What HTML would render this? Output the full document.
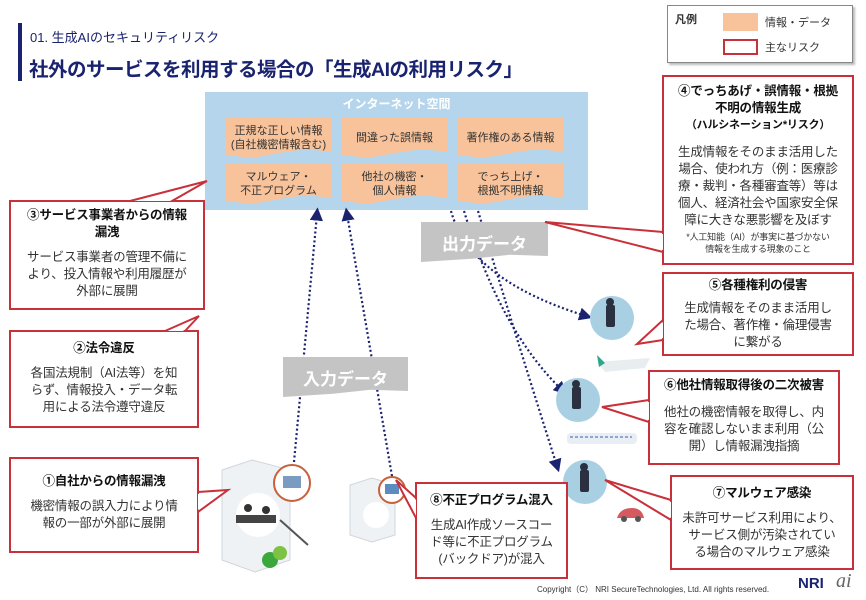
<!DOCTYPE html>
<html><head><meta charset="utf-8"><style>
*{margin:0;padding:0;box-sizing:border-box}
body{width:866px;height:600px;background:#fff;position:relative;overflow:hidden;font-family:"Liberation Sans","Noto Sans CJK JP",sans-serif;color:#333}
.a{position:absolute}
.box{position:absolute;border:2px solid #c8303a;background:#fff;text-align:center;font-size:12.5px;line-height:17px;color:#333;white-space:nowrap;letter-spacing:-0.2px}
.box b{display:block;font-size:12.5px;color:#111;margin-bottom:8px;line-height:17px}
.card{position:absolute;width:107px;height:41px;background:#f8c39b;color:#333;font-size:11px;line-height:14px;text-align:center;display:flex;align-items:center;justify-content:center;clip-path:polygon(0 0,100% 0,100% 85%,75% 78%,50% 88%,25% 100%,0 92%)}
.ban{position:absolute;background:#c4c4c4;color:#fff;font-weight:bold;font-size:17px;display:flex;align-items:center;justify-content:center;clip-path:polygon(0 0,100% 0,100% 85%,70% 82%,40% 92%,0 100%)}
</style></head><body>
<div class="a" style="left:18px;top:23px;width:4px;height:58px;background:#1a2370"></div>
<div class="a" style="left:30px;top:27px;font-size:13px;color:#1a2370">01. 生成AIのセキュリティリスク</div>
<div class="a" style="left:29px;top:53px;font-size:19.5px;font-weight:bold;color:#1a2370;letter-spacing:-0.5px">社外のサービスを利用する場合の「生成AIの利用リスク」</div>
<div class="a" style="left:667px;top:5px;width:186px;height:58px;border:1px solid #888;box-shadow:2px 2px 2px #bbb;background:#fff"></div>
<div class="a" style="left:675px;top:11px;font-size:11px;font-weight:bold">凡例</div>
<div class="a" style="left:723px;top:13px;width:35px;height:18px;background:#f8c39b"></div>
<div class="a" style="left:765px;top:14px;font-size:11px">情報・データ</div>
<div class="a" style="left:723px;top:39px;width:35px;height:16px;border:2px solid #c8303a"></div>
<div class="a" style="left:765px;top:39px;font-size:11px">主なリスク</div>

<div class="a" style="left:205px;top:92px;width:383px;height:118px;background:#b4d5eb"></div>
<div class="a" style="left:205px;top:95px;width:383px;text-align:center;color:#fff;font-weight:bold;font-size:12px">インターネット空間</div>
<div class="card" style="left:225px;top:117px">正規な正しい情報<br>(自社機密情報含む)</div>
<div class="card" style="left:341px;top:117px">間違った誤情報</div>
<div class="card" style="left:457px;top:117px">著作権のある情報</div>
<div class="card" style="left:225px;top:163px">マルウェア・<br>不正プログラム</div>
<div class="card" style="left:341px;top:163px">他社の機密・<br>個人情報</div>
<div class="card" style="left:457px;top:163px">でっち上げ・<br>根拠不明情報</div>

<svg class="a" style="left:0;top:0" width="866" height="600">
<defs><marker id="m" markerWidth="6" markerHeight="6" refX="3" refY="3" orient="auto"><path d="M0,0L6,3L0,6z" fill="#1a2370"/></marker></defs>
<g stroke="#1a2370" stroke-width="2.2" stroke-dasharray="2,2.5" fill="none">
<line x1="294" y1="462" x2="317" y2="214" marker-end="url(#m)"/>
<line x1="392" y1="476" x2="347" y2="214" marker-end="url(#m)"/>
<path d="M451,211 Q470,280 586,316" marker-end="url(#m)"/>
<path d="M464,211 Q500,330 562,390" marker-end="url(#m)"/>
<path d="M478,211 Q520,350 557,466" marker-end="url(#m)"/>
</g>
<circle cx="612" cy="318" r="22" fill="#a9cfe3"/>
<circle cx="578" cy="400" r="22" fill="#a9cfe3"/>
<circle cx="585" cy="482" r="22" fill="#a9cfe3"/>
<g fill="#2a3040"><rect x="606" y="305" width="9" height="22" rx="2"/><circle cx="610" cy="302" r="4"/>
<rect x="572" y="387" width="9" height="22" rx="2"/><circle cx="576" cy="384" r="4"/>
<rect x="580" y="470" width="9" height="22" rx="2"/><circle cx="584" cy="467" r="4"/></g>
<path d="M597,362 L650,358 L645,368 L605,372 Z" fill="#e8eef0"/><path d="M597,355 l8,8 l-6,4z" fill="#2fa58e"/>
<rect x="567" y="433" width="70" height="11" rx="4" fill="#e8eef4"/><line x1="570" y1="437" x2="632" y2="437" stroke="#3060b0" stroke-dasharray="3,2"/>
<path d="M617,518 q3,-10 15,-10 q10,0 12,10 z" fill="#d55a60"/><circle cx="624" cy="519" r="3" fill="#555"/><circle cx="638" cy="519" r="3" fill="#555"/>
<path d="M222,470 L252,460 L290,470 L290,560 L255,572 L222,560 Z" fill="#eef2f5" stroke="#d0d6dc"/>
<circle cx="258" cy="515" r="22" fill="#fff"/>
<rect x="236" y="515" width="40" height="8" fill="#444"/>
<circle cx="248" cy="508" r="4" fill="#333"/><circle cx="266" cy="510" r="4" fill="#333"/>
<circle cx="270" cy="560" r="8" fill="#3aa83a"/><circle cx="280" cy="553" r="7" fill="#7cc243"/>
<line x1="280" y1="520" x2="308" y2="545" stroke="#555" stroke-width="2"/>
<circle cx="292" cy="483" r="18" fill="#fff" stroke="#c8603a" stroke-width="2"/><rect x="283" y="476" width="18" height="12" fill="#7a9cc0"/>
<path d="M350,485 L372,478 L395,485 L395,535 L372,542 L350,535 Z" fill="#eef2f5" stroke="#d0d6dc"/>
<circle cx="376" cy="515" r="13" fill="#fff"/>
<circle cx="392" cy="490" r="13" fill="#fff" stroke="#c8603a" stroke-width="2"/><rect x="385" y="484" width="14" height="10" fill="#5a8cc0"/>
</svg>
<div class="ban" style="left:421px;top:222px;width:127px;height:40px">出力データ</div>
<div class="ban" style="left:283px;top:357px;width:125px;height:40px">入力データ</div>

<div class="box" style="left:662px;top:75px;width:192px;height:190px;padding-top:6px"><b style="margin-bottom:0">④でっちあげ・誤情報・根拠<br>不明の情報生成</b><div style="font-size:11px;font-weight:bold;color:#111;margin-bottom:10px">（ハルシネーション*リスク）</div>生成情報をそのまま活用した<br>場合、使われ方（例：医療診<br>療・裁判・各種審査等）等は<br>個人、経済社会や国家安全保<br>障に大きな悪影響を及ぼす<div style="font-size:9px;line-height:12px;margin-top:2px">*人工知能（AI）が事実に基づかない<br>情報を生成する現象のこと</div></div>
<div class="box" style="left:9px;top:200px;width:196px;height:110px;padding-top:5px"><b>③サービス事業者からの情報<br>漏洩</b>サービス事業者の管理不備に<br>より、投入情報や利用履歴が<br>外部に展開</div>
<div class="box" style="left:9px;top:330px;width:190px;height:98px;padding-top:8px"><b>②法令違反</b>各国法規制（AI法等）を知<br>らず、情報投入・データ転<br>用による法令遵守違反</div>
<div class="box" style="left:9px;top:457px;width:190px;height:96px;padding-top:14px"><b>①自社からの情報漏洩</b>機密情報の誤入力により情<br>報の一部が外部に展開</div>
<div class="box" style="left:415px;top:482px;width:153px;height:97px;padding-top:8px"><b>⑧不正プログラム混入</b>生成AI作成ソースコー<br>ド等に不正プログラム<br>(バックドア)が混入</div>
<div class="box" style="left:662px;top:272px;width:192px;height:84px;padding-top:3px"><b style="margin-bottom:6px">⑤各種権利の侵害</b>生成情報をそのまま活用し<br>た場合、著作権・倫理侵害<br>に繋がる</div>
<div class="box" style="left:648px;top:370px;width:192px;height:95px;padding-top:5px"><b style="margin-bottom:10px">⑥他社情報取得後の二次被害</b>他社の機密情報を取得し、内<br>容を確認しないまま利用（公<br>開）し情報漏洩指摘</div>
<div class="box" style="left:670px;top:475px;width:184px;height:95px;padding-top:8px"><b>⑦マルウェア感染</b>未許可サービス利用により、<br>サービス側が汚染されてい<br>る場合のマルウェア感染</div>

<svg class="a" style="left:0;top:0" width="866" height="600">
<g stroke="none" fill="#fff">
<polygon points="132,201 207,181 170,201"/>
<polygon points="167,331 199,316 183,331"/>
<polygon points="198,494 228,490 198,510"/>
<polygon points="416,500 396,480 416,516"/>
<polygon points="663,234 545,222 663,250"/>
<polygon points="663,322 637,344 663,338"/>
<polygon points="649,402 602,407 649,420"/>
<polygon points="671,502 605,480 671,518"/>
</g>
<g fill="none" stroke="#c8303a" stroke-width="2">
<polyline points="130,201 207,181 172,201"/>
<polyline points="165,331 199,316 185,331"/>
<polyline points="198,492 228,490 198,512"/>
<polyline points="416,498 396,480 416,518"/>
<polyline points="663,232 545,222 663,252"/>
<polyline points="663,320 637,344 663,340"/>
<polyline points="649,400 602,407 649,422"/>
<polyline points="671,500 605,480 671,520"/>
</g>
</svg>

<div class="a" style="left:537px;top:584px;font-size:8px;color:#333">Copyright（C） NRI SecureTechnologies, Ltd. All rights reserved.</div>
<div class="a" style="left:798px;top:575px;font-size:15px;font-weight:bold;color:#1a2370">NRI</div>
<div class="a" style="left:836px;top:570px;font-size:20px;font-style:italic;color:#666;font-family:'Liberation Serif',serif">ai</div>
</body></html>
